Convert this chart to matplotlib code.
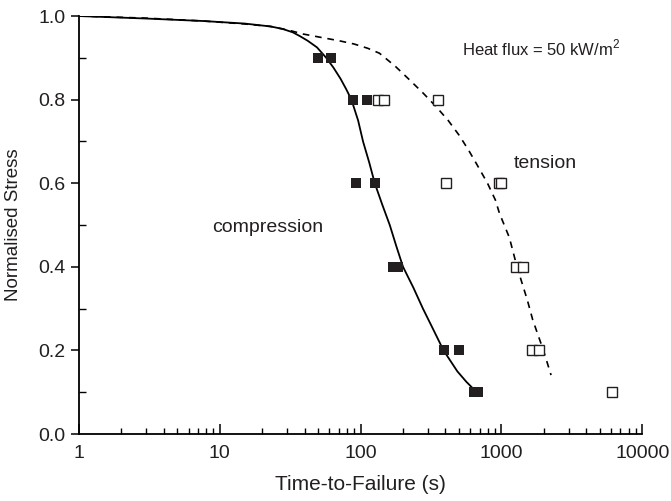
import matplotlib
matplotlib.use('Agg')
import matplotlib.pyplot as plt
from matplotlib.ticker import LogLocator, NullFormatter

plt.rcParams['font.family'] = ['Liberation Sans', 'DejaVu Sans']
plt.rcParams['mathtext.fontset'] = 'custom'
plt.rcParams['mathtext.rm'] = 'Liberation Sans'

# measured points
t_comp = [50, 62, 88, 111, 93, 126, 171, 184, 388, 498, 637, 687]
s_comp = [0.9, 0.9, 0.8, 0.8, 0.6, 0.6, 0.4, 0.4, 0.2, 0.2, 0.1, 0.1]
t_ten = [133, 146, 353, 401, 968, 1000, 1271, 1432, 1651, 1840, 6095]
s_ten = [0.8, 0.8, 0.8, 0.6, 0.6, 0.6, 0.4, 0.4, 0.2, 0.2, 0.1]

# fitted curves
fit_comp_t = [1, 3, 7.7, 15, 23, 28, 33, 37, 42, 49, 57, 64, 72, 79, 86, 96,
              104, 115, 126, 142, 161, 179, 200, 237, 277, 328, 388, 486, 563, 645]
fit_comp_s = [1.0, 0.994, 0.988, 0.982, 0.975, 0.969, 0.961, 0.952, 0.941, 0.925,
              0.9, 0.877, 0.85, 0.825, 0.8, 0.75, 0.7, 0.65, 0.6, 0.55, 0.5, 0.45,
              0.4, 0.35, 0.3, 0.25, 0.2, 0.15, 0.125, 0.105]
fit_ten_t = [1, 3, 7.7, 15, 23, 31, 39, 54, 70, 90, 112, 136, 176, 223, 279, 344,
             419, 500, 582, 661, 796, 905, 968, 1138, 1271, 1380, 1528, 1668, 1986, 2250]
fit_ten_s = [1.0, 0.995, 0.988, 0.981, 0.975, 0.966, 0.957, 0.948, 0.941, 0.933,
             0.923, 0.911, 0.88, 0.847, 0.815, 0.783, 0.75, 0.715, 0.68, 0.648,
             0.6, 0.56, 0.528, 0.47, 0.408, 0.368, 0.32, 0.273, 0.2, 0.141]

fig = plt.figure(figsize=(6.71, 5.01), dpi=100)
ax = fig.add_axes([0.1177, 0.1337, 0.8395, 0.8343])

ax.plot(fit_comp_t, fit_comp_s, color='black', lw=1.3)
ax.plot(fit_ten_t, fit_ten_s, color='black', lw=1.2, linestyle=(0, (4, 3.5)))
ax.plot(t_comp, s_comp, 's', color='#231f20', markersize=7.2, mew=0)
ax.plot(t_ten, s_ten, 's', markerfacecolor='white', markeredgecolor='#231f20',
        markersize=7, mew=1)

ax.set_xscale('log')
ax.set_xlim(1, 10000)
ax.set_ylim(0, 1.0)
ax.set_xticks([1, 10, 100, 1000, 10000])
ax.set_xticklabels(['1', '10', '100', '1000', '10000'])
ax.xaxis.set_minor_locator(LogLocator(base=10, subs=range(2, 10)))
ax.xaxis.set_minor_formatter(NullFormatter())
ax.set_yticks([0.0, 0.2, 0.4, 0.6, 0.8, 1.0])
ax.set_yticklabels(['0.0', '0.2', '0.4', '0.6', '0.8', '1.0'])
ax.set_yticks([0.1, 0.3, 0.5, 0.7, 0.9], minor=True)

for side in ['top', 'right']:
    ax.spines[side].set_visible(False)
for side in ['left', 'bottom']:
    ax.spines[side].set_linewidth(1.3)

ax.tick_params(axis='x', which='major', direction='in', length=7, width=1.1, labelsize=14, pad=8,
               labelcolor='#231f20')
ax.tick_params(axis='x', which='minor', direction='in', length=4, width=1.0)
ax.tick_params(axis='y', which='major', direction='out', length=6, width=1.1, labelsize=14,
               labelcolor='#231f20')
ax.tick_params(axis='y', which='minor', direction='in', length=5, width=1.0)

ax.set_xlabel('Time-to-Failure (s)', fontsize=15, color='#231f20', labelpad=9)
ax.set_ylabel('Normalised Stress', fontsize=13.5, color='#231f20', labelpad=12)

ax.text(527, 0.923, r'Heat flux = 50 kW/m$^{2}$', fontsize=12, va='center', ha='left', color='#231f20')
ax.text(1216, 0.648, 'tension', fontsize=14, va='center', ha='left', color='#231f20')
ax.text(8.77, 0.493, 'compression', fontsize=14, va='center', ha='left', color='#231f20')

fig.savefig('out.png', dpi=100)
